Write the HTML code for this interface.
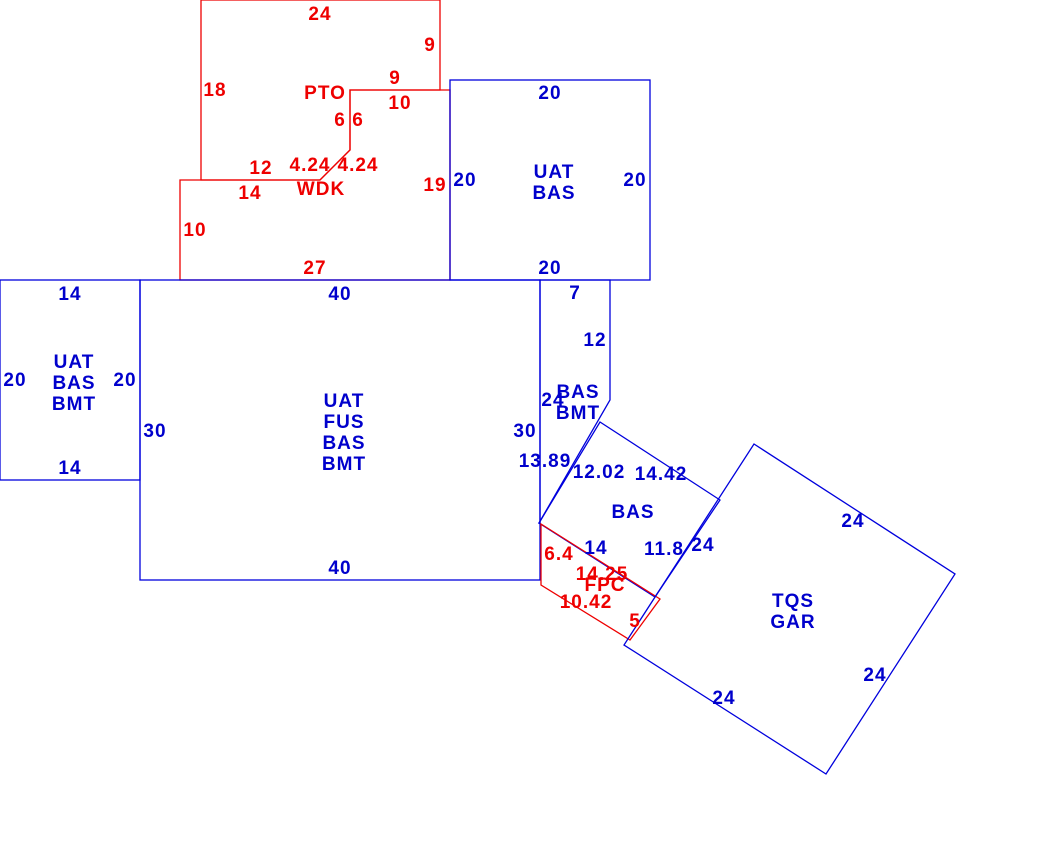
<!DOCTYPE html>
<html><head><meta charset="utf-8"><style>
html,body{margin:0;padding:0;background:#fff;}
svg{display:block;}
text{font-family:"Liberation Sans",Arial,sans-serif;font-weight:bold;font-size:19px;letter-spacing:1px;text-anchor:middle;}
.b{fill:#0000cc;} .r{fill:#ee0000;}
</style></head><body>
<svg width="1040" height="861" viewBox="0 0 1040 861" xmlns="http://www.w3.org/2000/svg">
<g fill="none" stroke-width="1.3">
<polygon stroke="#e00" points="201,0 440,0 440,90 350,90 350,150 320,180 201,180"/>
<polygon stroke="#e00" points="180,180 320,180 350,150 350,90 450,90 450,280 180,280"/>
<rect stroke="#0000dd" x="450" y="80" width="200" height="200"/>
<rect stroke="#0000dd" x="0" y="280" width="140" height="200"/>
<rect stroke="#0000dd" x="140" y="280" width="400" height="300"/>
<polygon stroke="#0000dd" points="540,280 610,280 610,400 539,523 540,523"/>
<polygon stroke="#0000dd" points="539,523 600,422 720,500 655,597"/>
<polygon stroke="#e00" points="541,524 541,585 630,640 660,599"/>
<polygon stroke="#0000dd" points="754,444 955,574 826,774 624,645"/>
</g>
<text class="r" x="320" y="20">24</text>
<text class="r" x="430" y="51">9</text>
<text class="r" x="215" y="96">18</text>
<text class="r" x="395" y="84">9</text>
<text class="r" x="325" y="99">PTO</text>
<text class="r" x="400" y="109">10</text>
<text class="r" x="340" y="126">6</text>
<text class="r" x="358" y="126">6</text>
<text class="r" x="261" y="174">12</text>
<text class="r" x="310" y="171">4.24</text>
<text class="r" x="358" y="171">4.24</text>
<text class="r" x="321" y="195">WDK</text>
<text class="r" x="250" y="199">14</text>
<text class="r" x="435" y="191">19</text>
<text class="r" x="195" y="236">10</text>
<text class="r" x="315" y="274">27</text>
<text class="b" x="550" y="99">20</text>
<text class="b" x="554" y="178">UAT</text>
<text class="b" x="554" y="199">BAS</text>
<text class="b" x="465" y="186">20</text>
<text class="b" x="635" y="186">20</text>
<text class="b" x="550" y="274">20</text>
<text class="b" x="70" y="300">14</text>
<text class="b" x="74" y="368">UAT</text>
<text class="b" x="74" y="389">BAS</text>
<text class="b" x="74" y="410">BMT</text>
<text class="b" x="15" y="386">20</text>
<text class="b" x="125" y="386">20</text>
<text class="b" x="70" y="474">14</text>
<text class="b" x="340" y="300">40</text>
<text class="b" x="155" y="437">30</text>
<text class="b" x="344" y="407">UAT</text>
<text class="b" x="344" y="428">FUS</text>
<text class="b" x="344" y="449">BAS</text>
<text class="b" x="344" y="470">BMT</text>
<text class="b" x="525" y="437">30</text>
<text class="b" x="340" y="574">40</text>
<text class="b" x="575" y="299">7</text>
<text class="b" x="595" y="346">12</text>
<text class="b" x="553" y="406">24</text>
<text class="b" x="578" y="398">BAS</text>
<text class="b" x="578" y="419">BMT</text>
<text class="b" x="545" y="467">13.89</text>
<text class="b" x="599" y="478">12.02</text>
<text class="b" x="661" y="480">14.42</text>
<text class="b" x="633" y="518">BAS</text>
<text class="b" x="596" y="554">14</text>
<text class="b" x="664" y="555">11.8</text>
<text class="b" x="703" y="551">24</text>
<text class="r" x="559" y="560">6.4</text>
<text class="r" x="602" y="580">14.25</text>
<text class="r" x="605" y="591">FPC</text>
<text class="r" x="586" y="608">10.42</text>
<text class="r" x="635" y="627">5</text>
<text class="b" x="853" y="527">24</text>
<text class="b" x="793" y="607">TQS</text>
<text class="b" x="793" y="628">GAR</text>
<text class="b" x="875" y="681">24</text>
<text class="b" x="724" y="704">24</text>
</svg>
</body></html>
